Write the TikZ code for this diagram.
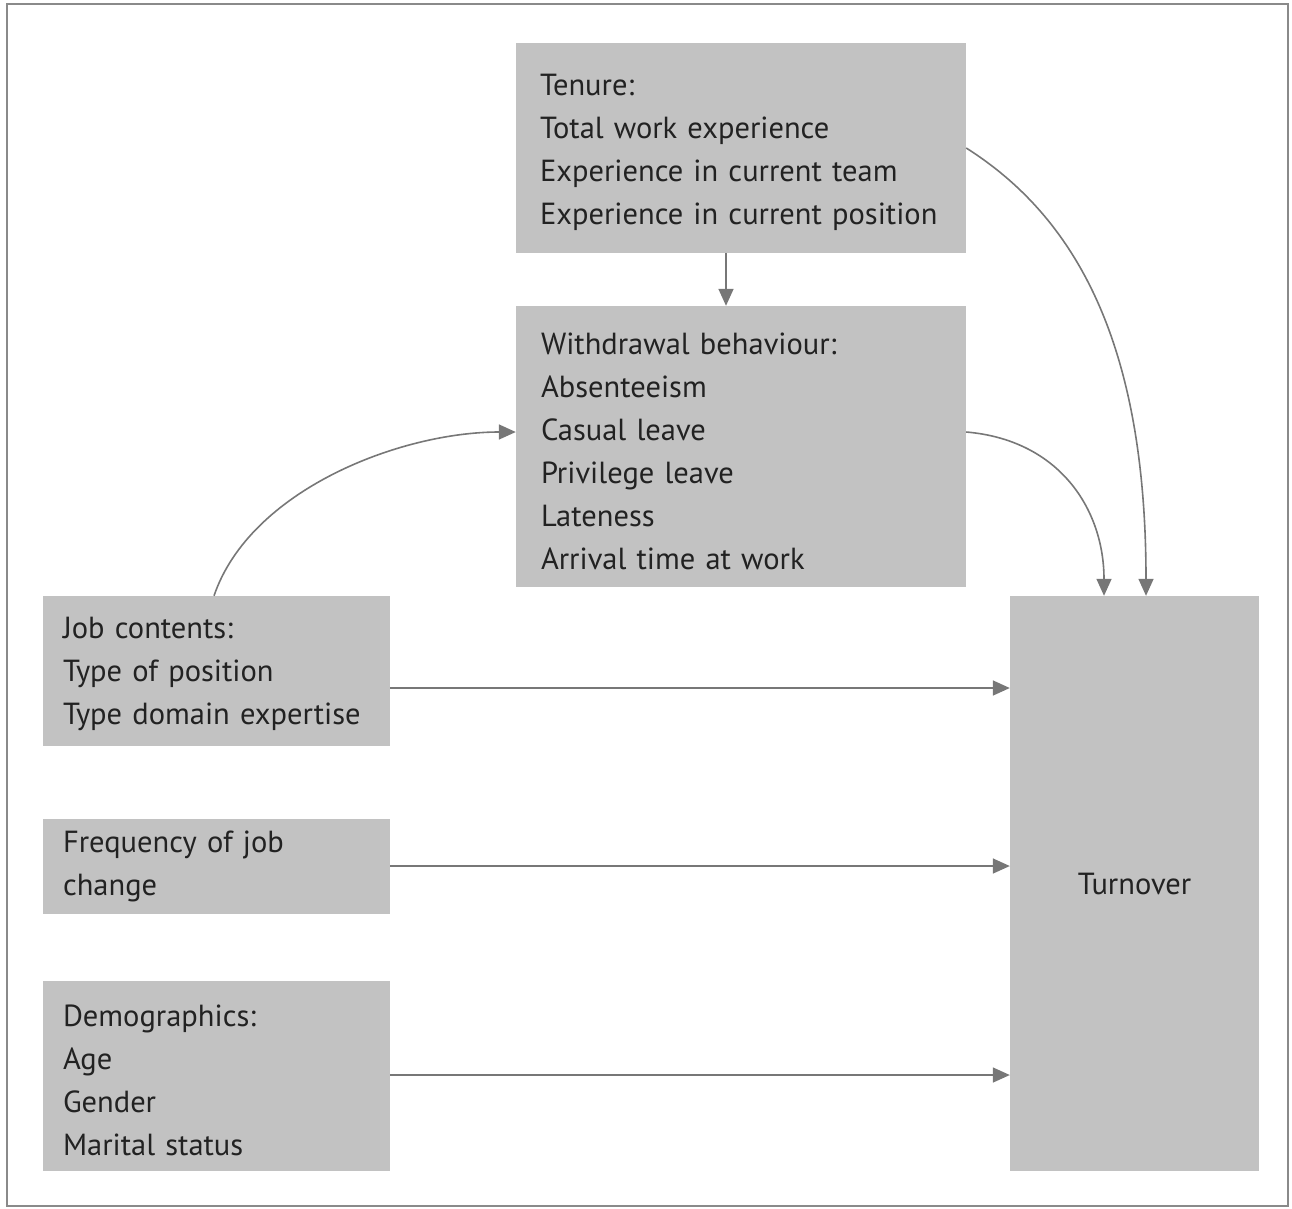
\documentclass[tikz,border=0pt]{standalone}
\usepackage{fontspec}
\setmainfont{PT Sans}
\usetikzlibrary{arrows.meta}
\definecolor{boxfill}{HTML}{C2C2C2}
\definecolor{arrowcol}{HTML}{777777}
\definecolor{framecol}{HTML}{8A8A8A}
\definecolor{textcol}{HTML}{222222}
\begin{document}
\begin{tikzpicture}[x=1pt,y=-1pt,
  box/.style={fill=boxfill,draw=none,inner sep=0pt,text=textcol,
    font=\fontsize{30.5}{43}\selectfont,align=left},
  lowered/.style={execute at begin node={\rule{0pt}{#1}}},
  arr/.style={draw=arrowcol,line width=1.6pt,-{Triangle[length=17pt,width=15pt]}}]
\useasboundingbox (0,0) rectangle (1292,1208);
\draw[framecol,line width=2.5pt] (7,4) rectangle (1288,1206);
% boxes
\node[box,lowered=31pt,minimum width=450,minimum height=210,text width=402] (tenure) at (741,148)
  {Tenure:\\Total work experience\\Experience in current team\\Experience in current position};
\node[box,lowered=31pt,minimum width=450,minimum height=281,text width=400] (withdraw) at (741,446.5)
  {Withdrawal behaviour:\\Absenteeism\\Casual leave\\Privilege leave\\Lateness\\Arrival time at work};
\node[box,lowered=28pt,minimum width=347,minimum height=150,text width=307] (job) at (216.5,671)
  {Job contents:\\Type of position\\Type domain expertise};
\node[box,minimum width=347,minimum height=95,text width=307] (freq) at (216.5,866.5)
  {Frequency of job\\change};
\node[box,lowered=31pt,minimum width=347,minimum height=190,text width=307] (demo) at (216.5,1076)
  {Demographics:\\Age\\Gender\\Marital status};
\node[box,minimum width=249,minimum height=575,align=center] (turn) at (1134.5,883.5)
  {Turnover};
% arrows
\draw[arr] (tenure.south -| 726,0) -- (withdraw.north -| 726,0);
\draw[arr] (tenure.east |- 0,148) .. controls (1080,220) and (1146,350) .. (turn.north -| 1146,0);
\draw[arr] (withdraw.east |- 0,432) .. controls (1060,440) and (1104,510) .. (turn.north -| 1104,0);
\draw[arr] (job.north -| 214,0) .. controls (250,490) and (400,432) .. (withdraw.west |- 0,432);
\draw[arr] (job.east |- 0,688) -- (turn.west |- 0,688);
\draw[arr] (freq.east |- 0,866) -- (turn.west |- 0,866);
\draw[arr] (demo.east |- 0,1075) -- (turn.west |- 0,1075);
\end{tikzpicture}
\end{document}
